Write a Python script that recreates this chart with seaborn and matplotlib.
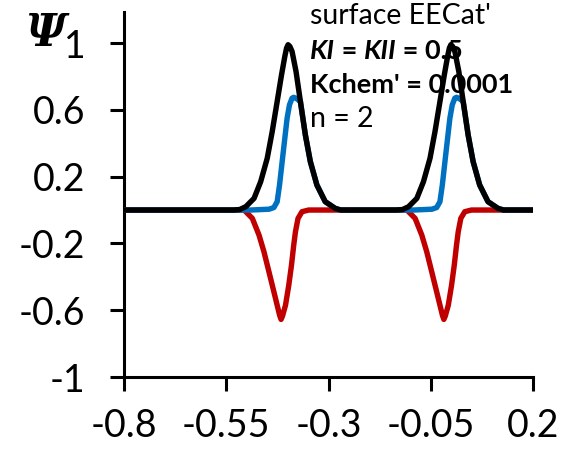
import matplotlib
matplotlib.use("Agg")
import matplotlib.pyplot as plt
import seaborn as sns

# potential axis and the three current components
x_black = [-0.80, -0.532, -0.517, -0.5022, -0.482, -0.4658, -0.4498, -0.4376, -0.4255,
           -0.4148, -0.4068, -0.4025, -0.3988, -0.3945, -0.3891, -0.3794, -0.3687,
           -0.3566, -0.3444, -0.3284, -0.3080, -0.2837, -0.270,
           -0.134, -0.119, -0.1042, -0.084, -0.0678, -0.0518, -0.0396, -0.0275,
           -0.0168, -0.0088, -0.0045, -0.0008, 0.0035, 0.0089, 0.0186, 0.0293,
           0.0414, 0.0536, 0.0696, 0.0900, 0.1143, 0.128, 0.20]
y_black = [0, 0, 0.003, 0.02, 0.07, 0.17, 0.31, 0.47, 0.65,
           0.81, 0.92, 0.97, 0.99, 0.98, 0.95, 0.83, 0.65,
           0.45, 0.29, 0.15, 0.05, 0.01, 0,
           0, 0.003, 0.02, 0.07, 0.17, 0.31, 0.47, 0.65,
           0.81, 0.92, 0.97, 0.99, 0.98, 0.95, 0.83, 0.65,
           0.45, 0.29, 0.15, 0.05, 0.01, 0, 0]

x_blue = [-0.80, -0.49, -0.445, -0.4335, -0.4255, -0.4197, -0.4133, -0.4068, -0.4012,
          -0.3954, -0.3891, -0.3850, -0.3800, -0.3740, -0.3687, -0.3566, -0.3444,
          -0.3284, -0.3080, -0.2837, -0.270,
          -0.092, -0.047, -0.0355, -0.0275, -0.0217, -0.0153, -0.0088, -0.0032,
          0.0026, 0.0089, 0.0130, 0.0180, 0.0240, 0.0293, 0.0414, 0.0536,
          0.0696, 0.0900, 0.1143, 0.128, 0.20]
y_blue = [0, 0, 0.005, 0.015, 0.05, 0.15, 0.29, 0.43, 0.55,
          0.63, 0.67, 0.675, 0.67, 0.66, 0.65, 0.45, 0.29,
          0.15, 0.05, 0.01, 0,
          0, 0.005, 0.015, 0.05, 0.15, 0.29, 0.43, 0.55,
          0.63, 0.67, 0.675, 0.67, 0.66, 0.65, 0.45, 0.29,
          0.15, 0.05, 0.01, 0, 0]

x_red = [-0.80, -0.5063, -0.4862, -0.4699, -0.4578, -0.4456, -0.4335, -0.4255, -0.4195,
         -0.4160, -0.4125, -0.4051, -0.3971, -0.3905, -0.3850, -0.3808, -0.3745,
         -0.3648, -0.3485,
         -0.1083, -0.0882, -0.0719, -0.0598, -0.0476, -0.0355, -0.0275, -0.0215,
         -0.0180, -0.0145, -0.0071, 0.0009, 0.0075, 0.0130, 0.0172, 0.0235,
         0.0332, 0.0495, 0.20]
y_red = [0, 0, -0.05, -0.15, -0.25, -0.37, -0.49, -0.57, -0.63,
         -0.655, -0.635, -0.57, -0.45, -0.33, -0.21, -0.13, -0.05,
         -0.01, 0,
         0, -0.05, -0.15, -0.25, -0.37, -0.49, -0.57, -0.63,
         -0.655, -0.635, -0.57, -0.45, -0.33, -0.21, -0.13, -0.05,
         -0.01, 0, 0]

x_ticks = [-0.8, -0.55, -0.3, -0.05, 0.2]
x_labels = ["-0.8", "-0.55", "-0.3", "-0.05", "0.2"]
y_ticks = [-1, -0.6, -0.2, 0.2, 0.6, 1]
y_labels = ["-1", "-0.6", "-0.2", "0.2", "0.6", "1"]

sns.set_style("ticks")
plt.rcParams['font.family'] = ['Lato', 'DejaVu Sans']
plt.rcParams['text.color'] = 'black'

fig = plt.figure(figsize=(5.68, 4.54), dpi=100)
ax = fig.add_axes([124 / 568, 77 / 454, 409 / 568, 365 / 454])

series = [(x_red, y_red, '#C00000'), (x_blue, y_blue, '#0070C0'), (x_black, y_black, 'black')]
for xs, ys, col in series:
    sns.lineplot(x=xs, y=ys, color=col, lw=3.9, ax=ax, estimator=None, sort=False,
                 zorder=3, solid_joinstyle='round', solid_capstyle='round')

ax.set_xlim(-0.8, 0.2)
ax.set_ylim(-1, 1.186)
ax.set_xticks(x_ticks)
ax.set_xticklabels(x_labels)
ax.set_yticks(y_ticks)
ax.set_yticklabels(y_labels)
ax.tick_params(axis='both', length=10, width=2.2, labelsize=27, color='black',
               labelcolor='black')
ax.tick_params(axis='y', pad=18)
ax.tick_params(axis='x', pad=12)
for s in ['left', 'bottom']:
    ax.spines[s].set_linewidth(2.2)
    ax.spines[s].set_color('black')
sns.despine(ax=ax)
ax.patch.set_alpha(0)

# annotation block (drawn under the curves)
tx = -0.346
fs_reg = 20.5
fs_bold = 19.5
ax.text(tx, 1.114, "surface EECat'", fontsize=fs_reg, va='baseline', zorder=1)
t1 = ax.text(tx, 0.904, "KI", fontsize=fs_bold, fontweight='bold', fontstyle='italic',
             va='baseline', zorder=1)
t2 = ax.annotate(" = ", xy=(1, 0), xycoords=t1, fontsize=fs_bold, fontweight='bold',
                 va='bottom', zorder=1)
t3 = ax.annotate("KII", xy=(1, 0), xycoords=t2, fontsize=fs_bold, fontweight='bold',
                 fontstyle='italic', va='bottom', zorder=1)
ax.annotate(" = 0.5", xy=(1, 0), xycoords=t3, fontsize=fs_bold, fontweight='bold',
            va='bottom', zorder=1)
ax.text(tx, 0.70, "Kchem' = 0.0001", fontsize=fs_bold, fontweight='bold', va='baseline',
        zorder=1)
ax.text(tx, 0.497, "n = 2", fontsize=fs_reg, va='baseline', zorder=1)

fig.text(45 / 568, 1 - 33 / 454, "Ψ", fontsize=32, family='DejaVu Serif',
         fontstyle='italic', fontweight='bold', ha='center', va='center')

fig.savefig('out.png', dpi=100)
